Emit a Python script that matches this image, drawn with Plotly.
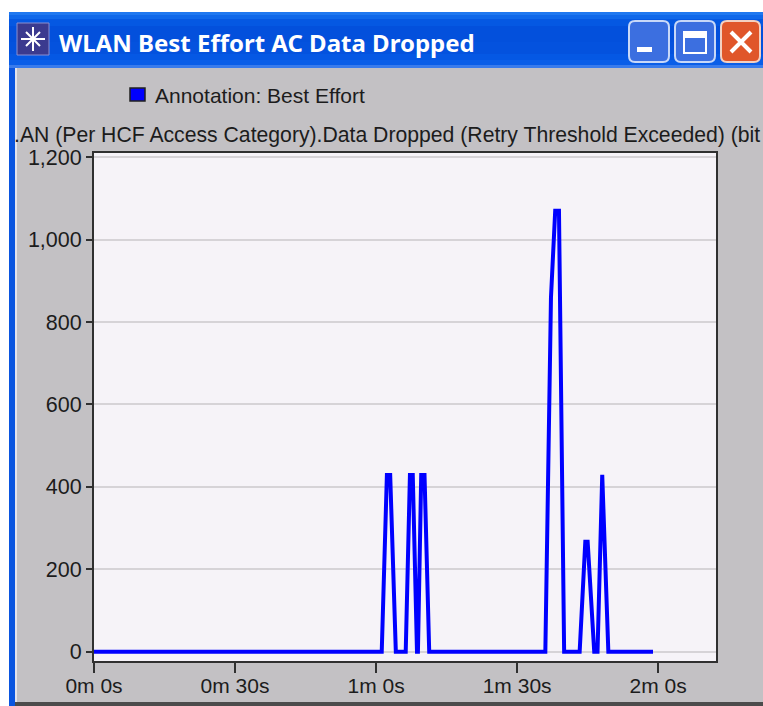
import plotly.graph_objects as go

times_s = [0, 61.2, 62.3, 63.0, 64.2, 66.3, 67.2, 67.8, 68.7, 68.9, 69.6, 70.3, 71.3,
           96.0, 97.2, 98.1, 98.9, 100.0, 103.3, 104.5, 105.0, 106.4, 107.1, 108.1, 109.4, 118.9]
dropped = [0, 0, 429, 429, 0, 0, 429, 429, 0, 0, 429, 429, 0,
           0, 860, 1070, 1070, 0, 0, 267, 267, 0, 0, 429, 0, 0]
x_ticks = [0, 30, 60, 90, 120]
x_labels = ["0m 0s", "0m 30s", "1m 0s", "1m 30s", "2m 0s"]
y_ticks = [0, 200, 400, 600, 800, 1000, 1200]
y_labels = ["0", "200", "400", "600", "800", "1,000", "1,200"]
title = "WLAN Best Effort AC Data Dropped"
legend_label = "Annotation: Best Effort"
axis_title = ".AN (Per HCF Access Category).Data Dropped (Retry Threshold Exceeded) (bit"

W, H = 763, 706
PL, PR, PT, PB = 94, 716, 153, 661
def X(p): return (p - PL) / (PR - PL)
def Y(p): return (PB - p) / (PB - PT)

shapes = []
def rect(x0, y0, x1, y1, fill, line=None, lw=0, layer="below"):
    shapes.append(dict(type="rect", xref="paper", yref="paper", x0=X(x0), x1=X(x1), y0=Y(y0), y1=Y(y1),
                       fillcolor=fill, line=dict(color=line or fill, width=lw), layer=layer))
def rrect(x0, y0, x1, y1, r, fill, line):
    p = (f"M {X(x0+r)} {Y(y0)} L {X(x1-r)} {Y(y0)} Q {X(x1)} {Y(y0)} {X(x1)} {Y(y0+r)} "
         f"L {X(x1)} {Y(y1-r)} Q {X(x1)} {Y(y1)} {X(x1-r)} {Y(y1)} "
         f"L {X(x0+r)} {Y(y1)} Q {X(x0)} {Y(y1)} {X(x0)} {Y(y1-r)} "
         f"L {X(x0)} {Y(y0+r)} Q {X(x0)} {Y(y0)} {X(x0+r)} {Y(y0)} Z")
    shapes.append(dict(type="path", xref="paper", yref="paper", layer="above", path=p,
                       fillcolor=fill, line=dict(color=line, width=2)))

# window body and borders
rect(9, 12, 763, 706, "#0a55e0")
rect(15, 68, 763, 704, "#c3c1c4")
rect(15, 68, 17, 704, "#e4e4ec")
rect(15, 702, 763, 706, "#4c4c4c")
rect(PL, PT, PR, PB, "#f6f3f8")
# title bar gradient
bands = [(12, 15, "#1f78f0"), (15, 19, "#0f68ea"), (19, 26, "#0558e2"), (26, 42, "#0350dc"),
         (42, 54, "#0452de"), (54, 60, "#0558e4"), (60, 65, "#0a5ee8"), (65, 68, "#3a7cec")]
for a, b, c in bands:
    rect(9, a, 763, b, c)
# title icon
rect(17, 23, 49, 55, "#3b3a8f", "#8c8fd0", 1, "above")
shapes.append(dict(type="path", xref="paper", yref="paper", layer="above",
    path=f"M {X(21)} {Y(39)} L {X(45)} {Y(39)} M {X(33)} {Y(27)} L {X(33)} {Y(51)} M {X(26)} {Y(32)} L {X(40)} {Y(46)} M {X(40)} {Y(32)} L {X(26)} {Y(46)}",
    line=dict(color="#ffffff", width=2)))
# window buttons
rrect(629, 21, 669, 62, 6, "#3c6fe0", "#c8d8f8")
rect(637, 47, 652, 52, "#ffffff", None, 0, "above")
rrect(675, 21, 715, 62, 6, "#3c6fe0", "#c8d8f8")
rect(684, 32, 706, 53, "rgba(0,0,0,0)", "#ffffff", 2, "above")
rect(684, 32, 706, 38, "#ffffff", None, 0, "above")
rrect(721, 21, 760, 62, 6, "#e0562a", "#f4d0c0")
shapes.append(dict(type="path", xref="paper", yref="paper", layer="above",
    path=f"M {X(731)} {Y(32)} L {X(751)} {Y(52)} M {X(751)} {Y(32)} L {X(731)} {Y(52)}",
    line=dict(color="#ffffff", width=4)))
# legend swatch
rect(130, 88, 145, 101, "#0000ff", "#202020", 1.5, "above")

fig = go.Figure(go.Scatter(x=times_s, y=dropped, mode="lines", name="Best Effort",
                           line=dict(color="#0000ff", width=4, shape="linear"), showlegend=False,
                           cliponaxis=True))

ann_font = dict(family="Liberation Sans", color="#1c1c1c")
fig.update_layout(
    width=W, height=H, autosize=False,
    margin=dict(l=PL, r=W - PR, t=PT, b=H - PB, pad=0, autoexpand=False),
    paper_bgcolor="#ffffff", plot_bgcolor="#f6f3f8",
    font=dict(family="Liberation Sans", size=21, color="#1c1c1c"),
    xaxis=dict(range=[0, 132.3], tickvals=x_ticks, ticktext=x_labels, ticks="outside", ticklen=10,
               tickwidth=1.5, tickcolor="#303030", showgrid=False, zeroline=False, showline=True,
               linecolor="#303030", linewidth=2, mirror=True, tickfont=dict(size=21), automargin=False,
               ticklabelstandoff=-5),
    yaxis=dict(range=[-22.6, 1210], tickvals=y_ticks, ticktext=y_labels, ticks="outside", ticklen=6,
               tickwidth=1.5, tickcolor="#303030", showgrid=True, gridcolor="#d6d3d7", gridwidth=2,
               zeroline=False, showline=True, linecolor="#303030", linewidth=2, mirror=True,
               tickfont=dict(size=21.5), automargin=False),
    shapes=shapes,
    annotations=[
        dict(text=f"<b>{title}</b>", xref="paper", yref="paper", x=X(57), y=Y(43), xanchor="left", yanchor="middle",
             showarrow=False, font=dict(family="Noto Sans", size=24, color="#ffffff")),
        dict(text=legend_label, xref="paper", yref="paper", x=X(153), y=Y(95), xanchor="left", yanchor="middle",
             showarrow=False, font=dict(size=21, **ann_font)),
        dict(text=axis_title, xref="paper", yref="paper", x=X(12), y=Y(135), xanchor="left", yanchor="middle",
             showarrow=False, font=dict(size=21.2, **ann_font)),
    ],
)
fig.write_html("out.html", config={"displayModeBar": False},
               post_script="document.body.style.margin='0';document.documentElement.style.overflow='hidden';")
